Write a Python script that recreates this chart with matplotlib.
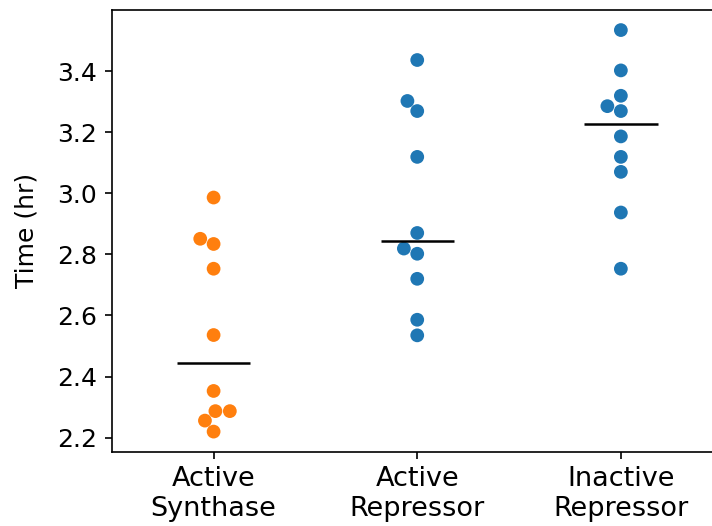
import numpy as np
import pandas as pd
import matplotlib
matplotlib.use('Agg')
import matplotlib.pyplot as plt
import seaborn as sns

categories = ['Active\nSynthase', 'Active\nRepressor', 'Inactive\nRepressor']
colors = ['#ff7f0e', '#1f77b4', '#1f77b4']

active_synthase = [2.986, 2.851, 2.834, 2.753, 2.536, 2.353, 2.287, 2.287, 2.256, 2.220]
active_repressor = [3.436, 3.302, 3.269, 3.119, 2.870, 2.819, 2.802, 2.720, 2.586, 2.535]
inactive_repressor = [3.534, 3.402, 3.319, 3.285, 3.269, 3.186, 3.119, 3.070, 2.937, 2.753]

groups = [active_synthase, active_repressor, inactive_repressor]
df = pd.DataFrame({
    'group': np.repeat(categories, [len(g) for g in groups]),
    'time': np.concatenate(groups),
})

plt.rcParams['font.size'] = 12

fig = plt.figure(figsize=(712 / 150, 526 / 150), dpi=150)
ax = fig.add_axes([0.157, 0.1413, 0.858, 0.8397])

sns.swarmplot(data=df, x='group', y='time', hue='group', palette=colors,
              size=6.6, linewidth=0, legend=False, ax=ax, order=categories)

# median lines
for i, g in enumerate(groups):
    ax.hlines(np.median(g), i - 0.18, i + 0.18, color='black', lw=1.2, zorder=5)

ax.set_xlim(-0.5, 2.5)
ax.set_xlabel('')
ax.set_ylabel('Time (hr)', labelpad=9)
ax.set_yticks([2.2, 2.4, 2.6, 2.8, 3.0, 3.2, 3.4])
ax.tick_params(axis='x', labelsize=13)

fig.savefig('out.png', dpi=150)
